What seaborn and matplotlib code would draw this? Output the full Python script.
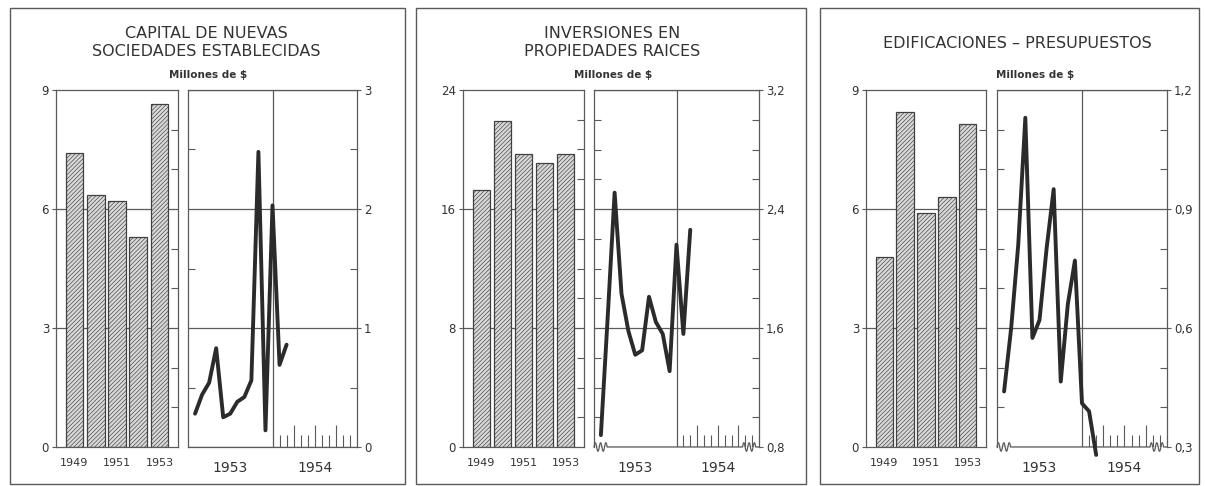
import numpy as np
import pandas as pd
import matplotlib
matplotlib.use('Agg')
import matplotlib.pyplot as plt
import seaborn as sns
from matplotlib.patches import Rectangle

# annual totals (bars), millions of $
years = ['1949', '1950', '1951', '1952', '1953']
capital_annual = [7.4, 6.35, 6.2, 5.3, 8.65]
inversiones_annual = [17.3, 21.9, 19.7, 19.1, 19.7]
edificaciones_annual = [4.8, 8.45, 5.9, 6.3, 8.15]

# monthly values, month index counted from Jan 1953 = 0 (so 1..14 = Feb 1953 .. Mar 1954)
months = list(range(1, 15))
capital_monthly = [0.28, 0.44, 0.54, 0.83, 0.25, 0.28, 0.38, 0.42, 0.56, 2.48, 0.14, 2.03, 0.69, 0.86]
inversiones_monthly = [0.88, 1.68, 2.51, 1.83, 1.58, 1.42, 1.45, 1.81, 1.64, 1.56, 1.31, 2.16, 1.56, 2.26]
edificaciones_monthly = [0.44, 0.60, 0.81, 1.13, 0.575, 0.62, 0.80, 0.95, 0.465, 0.66, 0.77, 0.41, 0.39, 0.28]

bar_tick_years = ['1949', '1951', '1953']
line_year_labels = ['1953', '1954']

W, H = 1205, 486
INK = '#2b2b2b'
RULE = '#5a5a5a'
TXT = '#333333'

sns.set_style('white')
plt.rcParams['font.family'] = ['DejaVu Sans']
plt.rcParams['hatch.linewidth'] = 0.45


def comma(v, nd):
    return f'{v:.{nd}f}'.replace('.', ',')


panels = [
    dict(title='CAPITAL DE NUEVAS\nSOCIEDADES ESTABLECIDAS', annual=capital_annual,
         monthly=capital_monthly, bar_max=9, bar_step=3, bar_minor=1,
         line_min=0, line_max=3, line_step=1, line_minor=0.5, nd=0, broken=False,
         box=(10, 8, 405, 484), bar_px=(56, 90, 178, 447), line_px=(188, 90, 357, 447),
         title_x=206, mill_x=208),
    dict(title='INVERSIONES EN\nPROPIEDADES RAICES', annual=inversiones_annual,
         monthly=inversiones_monthly, bar_max=24, bar_step=8, bar_minor=2,
         line_min=0.8, line_max=3.2, line_step=0.8, line_minor=0.2, nd=1, broken=True,
         box=(416, 8, 806, 484), bar_px=(463, 90, 584, 447), line_px=(594, 90, 759, 447),
         title_x=612, mill_x=613),
    dict(title='EDIFICACIONES – PRESUPUESTOS', annual=edificaciones_annual,
         monthly=edificaciones_monthly, bar_max=9, bar_step=3, bar_minor=1,
         line_min=0.3, line_max=1.2, line_step=0.3, line_minor=0.1, nd=1, broken=True,
         box=(820, 8, 1199, 484), bar_px=(866, 90, 986, 447), line_px=(997, 90, 1167, 447),
         title_x=1017, mill_x=1035),
]


def px_axes(fig, r):
    x0, y0, x1, y1 = r
    return fig.add_axes([x0 / W, 1 - y1 / H, (x1 - x0) / W, (y1 - y0) / H])


def style_spines(ax):
    for s in ax.spines.values():
        s.set_color(RULE)
        s.set_linewidth(0.9)


fig = plt.figure(figsize=(W / 100, H / 100), dpi=100)
fig.patch.set_facecolor('white')

for p in panels:
    # outer frame
    x0, y0, x1, y1 = p['box']
    fig.add_artist(Rectangle((x0 / W, 1 - y1 / H), (x1 - x0) / W, (y1 - y0) / H,
                             transform=fig.transFigure, fill=False, edgecolor=RULE, lw=1.0))
    fig.text(p['title_x'] / W, 1 - 43 / H, p['title'], ha='center', va='center',
             fontsize=11.5, color=TXT, linespacing=1.25)
    fig.text(p['mill_x'] / W, 1 - 75 / H, 'Millones de $', ha='center', va='center',
             fontsize=7.5, fontweight='bold', color=TXT)

    # --- annual bars ---
    axb = px_axes(fig, p['bar_px'])
    df = pd.DataFrame({'year': years, 'value': p['annual']})
    sns.barplot(data=df, x='year', y='value', ax=axb, color='#d9d9d9', saturation=1,
                edgecolor='#404040', linewidth=0.9, hatch='////////', width=0.83)
    axb.set_xlim(-0.87, 4.87)
    axb.set_ylim(0, p['bar_max'])
    majors = np.arange(0, p['bar_max'] + 1e-9, p['bar_step'])
    axb.set_yticks(majors)
    axb.set_yticklabels([f'{int(v)}' for v in majors], fontsize=8.5, color=TXT)
    axb.set_yticks(np.arange(0, p['bar_max'] + 1e-9, p['bar_minor']), minor=True)
    axb.tick_params(axis='y', which='major', left=True, right=False, length=3, width=0.8,
                    color=RULE, pad=2, direction='out')
    axb.tick_params(axis='y', which='minor', left=False, right=True, length=5, width=0.8,
                    color=RULE, direction='in')
    for v in majors[1:-1]:
        axb.axhline(v, color=RULE, lw=0.9, zorder=0)
    axb.set_axisbelow(True)
    axb.set_xticks([years.index(y) for y in bar_tick_years])
    axb.set_xticklabels(bar_tick_years, fontsize=8, color=TXT)
    axb.tick_params(axis='x', length=0, pad=8)
    axb.set_xlabel('')
    axb.set_ylabel('')
    style_spines(axb)

    # --- monthly line ---
    axl = px_axes(fig, p['line_px'])
    sns.lineplot(x=months, y=p['monthly'], ax=axl, color=INK, linewidth=2.8,
                 clip_on=False, zorder=5)
    axl.set_xlim(0, 24)
    axl.set_ylim(p['line_min'], p['line_max'])
    lmaj = np.arange(p['line_min'], p['line_max'] + 1e-9, p['line_step'])
    axl.set_yticks(lmaj)
    axl.set_yticklabels([comma(v, p['nd']) for v in lmaj], fontsize=8.5, color=TXT)
    axl.set_yticks(np.arange(p['line_min'], p['line_max'] + 1e-9, p['line_minor']), minor=True)
    axl.yaxis.tick_right()
    axl.tick_params(axis='y', which='major', left=False, right=True, length=3, width=0.8,
                    color=RULE, pad=2, direction='out')
    axl.tick_params(axis='y', which='minor', left=True, right=True, length=5, width=0.8,
                    color=RULE, direction='in')
    axl.yaxis.grid(True, which='major', color=RULE, lw=0.9)
    axl.axvline(12, color=RULE, lw=0.9, zorder=1)
    axl.set_xticks([6, 18])
    axl.set_xticklabels(line_year_labels, fontsize=10, color=TXT)
    axl.tick_params(axis='x', length=0, pad=10)
    # monthly comb along the 1954 half
    comb = np.arange(13, 24)
    heights = np.where((comb - 12) % 3 == 0, 0.062, 0.034)
    axl.vlines(comb, 0, heights, transform=axl.get_xaxis_transform(), color=RULE, lw=0.8)
    style_spines(axl)
    if p['broken']:
        # wavy break marks on the baseline (axis does not start at zero)
        axl.spines['bottom'].set_visible(False)
        t = np.linspace(0, 1, 40)
        wave = 0.012 * np.sin(t * 2 * np.pi * 2.5)
        xs = np.concatenate([t * 0.08, [0.09, 0.90], 0.90 + t * 0.08, [1.0]])
        ys = np.concatenate([wave, [0, 0], wave, [0]])
        axl.plot(xs, ys, transform=axl.transAxes, color=RULE, lw=0.9, clip_on=False)
    axl.set_xlabel('')
    axl.set_ylabel('')

fig.savefig('out.png', dpi=100)
